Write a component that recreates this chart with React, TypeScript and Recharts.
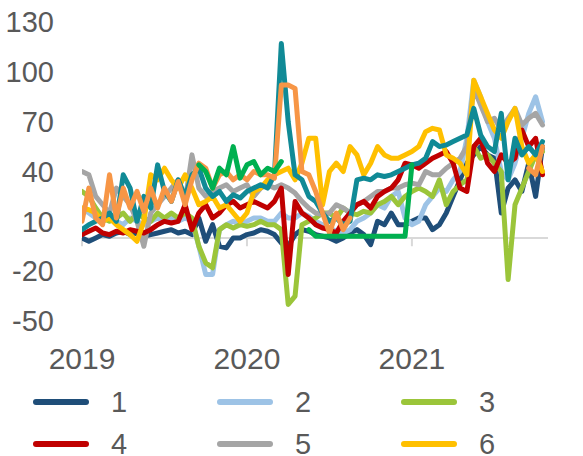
import React from 'react';
import { LineChart, Line, XAxis, YAxis, ReferenceLine } from 'recharts';

// half-month periods starting Jan 2019
const yearLabels = ['2019', '2020', '2021'];
const periodsPerYear = 24;
const yTicks = [-50, -20, 10, 40, 70, 100, 130];

const s1 = [0, -2, 0, 2, 1, 3, 4, 2, 3, 1, 2, 3, 4, 5, 3,
  4, 2, 12, -2, 8, -5, -6, 0, 0,
  2, 3, 5, 4, 2, -3, -5, 2, 5, 4, 2, 1, 0, -2, 0, 3,
  5, 2, -4, 10, 8, 15, 8, 8, 10, 12, 12, 5,
  8, 15, 25, 35, 45, 50, 55, 50, 48, 15, 30, 35, 28, 45, 25, 55];
const s2 = [18, 15, 12, 10, 12, 10, 8, 12, 10, 8, 10, 12, 10, 12, 10,
  12, 10, -5, -22, -22, 5, 8, 10, 8,
  10, 12, 12, 10, 10, 15, 12, 12, 15, 13, 10, 8, 6, 4, 3, 5,
  10, 12, 15, 20, 18, 25, 28, 12, 8, 10, 20, 25,
  30, 28, 35, 40, 60, 95, 85, 70, 60, 40, 35, 45, 60, 75, 85, 70];
const s3 = [28, 25, 18, 12, 10, 12, 15, 10, 15, 12, 10, 15, 12, 15, 12,
  15, 12, -5, -15, -18, 5, 8, 6, 8,
  7, 8, 10, 8, 8, 5, -40, -35, 8, 10, 12, 15, 15, 12, 18, 15,
  14, 16, 15, 20, 22, 25, 20, 25, 28, 30, 28, 25,
  35, 20, 28, 32, 35, 55, 48, 50, 45, 40, -25, 20, 30, 40, 50, 52];
const s4 = [2, 4, 6, 3, 2, 4, 3, 5, 4, 3, 5, 8, 10, 9, 10,
  20, 5, 15, 20, 12, 15, 20, 22, 18,
  20, 22, 20, 18, 22, 30, -22, 22, 15, 12, 8, 6, 5, 3, 10, 15,
  20, 22, 18, 25, 28, 30, 35, 45, 44, 42, 45, 48,
  50, 52, 45, 30, 28, 55, 60, 45, 40, 50, 45, 48, 65, 55, 60, 38];
const s5 = [40, 38, 25, 20, 15, 30, 25, 20, 10, -5, 15, 20, 25, 30, 35,
  22, 50, 30, 25, 28, 30, 32, 28, 30,
  32, 25, 30, 32, 30, 32, 30, 27, 22, 18, 15, 14, 15, 20, 18, 15,
  20, 22, 25, 28, 28, 30, 30, 32, 33, 32, 40, 38,
  38, 42, 45, 48, 55, 90, 80, 70, 72, 65, 72, 78, 68, 72, 75, 68];
const s6 = [18, 17, 15, 10, 12, 8, 5, 2, -2, 10, 38, 35, 42, 35, 30,
  38, 30, 20, 22, 25, 18, 20, 15, 10,
  15, 28, 30, 35, 38, 40, 42, 35, 45, 60, 60, 20, 40, 45, 40, 55,
  50, 38, 45, 55, 50, 48, 48, 50, 52, 55, 64, 66,
  65, 50, 48, 45, 38, 95, 85, 75, 65, 60, 70, 78, 55, 45, 50, 40];
const s7 = [5, 8, 10, 12, 15, 10, 38, 30, 10, 25, 18, 44, 28, 22, 35,
  25, 38, 42, 30, 25, 28, 22, 26, 24,
  28, 30, 32, 30, 38, 117, 70, 38, 35, 25, 22, 15, 10, 12, 8, 10,
  35, 36, 35, 38, 37, 38, 40, 42, 44, 45, 48, 58,
  55, 56, 58, 60, 62, 78, 62, 55, 52, 75, 35, 60, 50, 55, 50, 58];
const s8 = [10, 30, 12, 8, 38, 12, 30, 18, 28, 16, 30, 18, 30, 22, 34,
  20, 35, 45, 42, 30, 38, 40, 35, 38,
  35, 40, 38, 38, 36, 92, 92, 90, 40, 38, 28, 15, 3, 15, 5, 12,
  null, null, null, null, null, null, null, null, null, null, null, null,
  null, null, null, null, null, null, null, null, null, null, null, null, null,
  42, 38, 55];
const s9 = [null, null, null, null, null, null, null, null, null, null, null, null, null, null, null,
  null, null, 44, 40, 30, 42, 38, 55, 36,
  44, 46, 38, 42, 40, 46, null, null, null, 5, 1, 1, 1, 1, 1, 1,
  1, 1, 1, 1, 1, 1, 1, 1, 44, null, null, null,
  null, null, null, null, null, null, null, null, null, null, null, null, null, null, null, null];

const seriesNames = ['1', '2', '3', '4', '5', '6', '7', '8', '9'];
const seriesColors = ['#1F4E79', '#9DC3E6', '#9BC53A', '#C00000', '#A5A5A5', '#FFC000', '#108A96', '#F79646', '#00B050'];
const allSeries = [s1, s2, s3, s4, s5, s6, s7, s8, s9];
const drawOrder = [0, 1, 2, 4, 3, 5, 6, 7, 8];
const legendItems = [0, 1, 2, 3, 4, 5];

const data = s1.map((_, i) => {
  const row: Record<string, number | null> = { t: i };
  seriesNames.forEach((n, k) => {
    row['s' + n] = allSeries[k][i];
  });
  return row;
});

const font = '"Liberation Sans", Arial, sans-serif';
const textColor = '#595959';

const App = () => {
  return (
    <div style={{ position: 'absolute', left: 0, top: 0, width: 583, height: 456, background: '#fff', fontFamily: font }}>
      <LineChart width={583} height={456} data={data} margin={{ top: 22, right: 35, left: 0, bottom: 85 }}>
        <XAxis
          dataKey="t"
          type="number"
          domain={[0, 67.8]}
          ticks={yearLabels.map((_, k) => k * periodsPerYear)}
          tickFormatter={(v) => yearLabels[Math.round(v / periodsPerYear)]}
          axisLine={false}
          tickLine={false}
          tickSize={0}
          tickMargin={27}
          height={50}
          allowDataOverflow
          tick={{ fill: textColor, fontSize: 30, fontFamily: font }}
        />
        <YAxis
          type="number"
          domain={[-50, 130]}
          ticks={yTicks}
          axisLine={false}
          tickLine={false}
          tickSize={0}
          tickMargin={28}
          width={82}
          interval={0}
          tick={{ fill: textColor, fontSize: 29, fontFamily: font }}
        />
        <ReferenceLine y={0} stroke="#D9D9D9" strokeWidth={2} />
        {yearLabels.map((_, k) => (
          <ReferenceLine
            key={k}
            segment={[{ x: k * periodsPerYear, y: 0 }, { x: k * periodsPerYear, y: -5 }]}
            stroke="#D9D9D9"
            strokeWidth={2}
          />
        ))}
        {drawOrder.map((k) => (
          <Line
            key={k}
            dataKey={'s' + seriesNames[k]}
            name={seriesNames[k]}
            stroke={seriesColors[k]}
            strokeWidth={5}
            strokeLinejoin="round"
            strokeLinecap="round"
            dot={false}
            activeDot={false}
            type="linear"
            isAnimationActive={false}
          />
        ))}
      </LineChart>
      <div style={{ position: 'absolute', left: 0, top: 381, width: 583 }}>
        {legendItems.map((k, j) => (
          <div
            key={k}
            style={{
              position: 'absolute',
              left: 33 + (j % 3) * 184,
              top: (j < 3 ? 0 : 42),
              display: 'flex',
              alignItems: 'center',
              height: 42,
            }}
          >
            <span style={{ display: 'inline-block', width: 56, height: 6, borderRadius: 3, background: seriesColors[k] }} />
            <span style={{ marginLeft: 22, fontSize: 29, color: textColor, fontFamily: font }}>{seriesNames[k]}</span>
          </div>
        ))}
      </div>
    </div>
  );
};

export default App;
